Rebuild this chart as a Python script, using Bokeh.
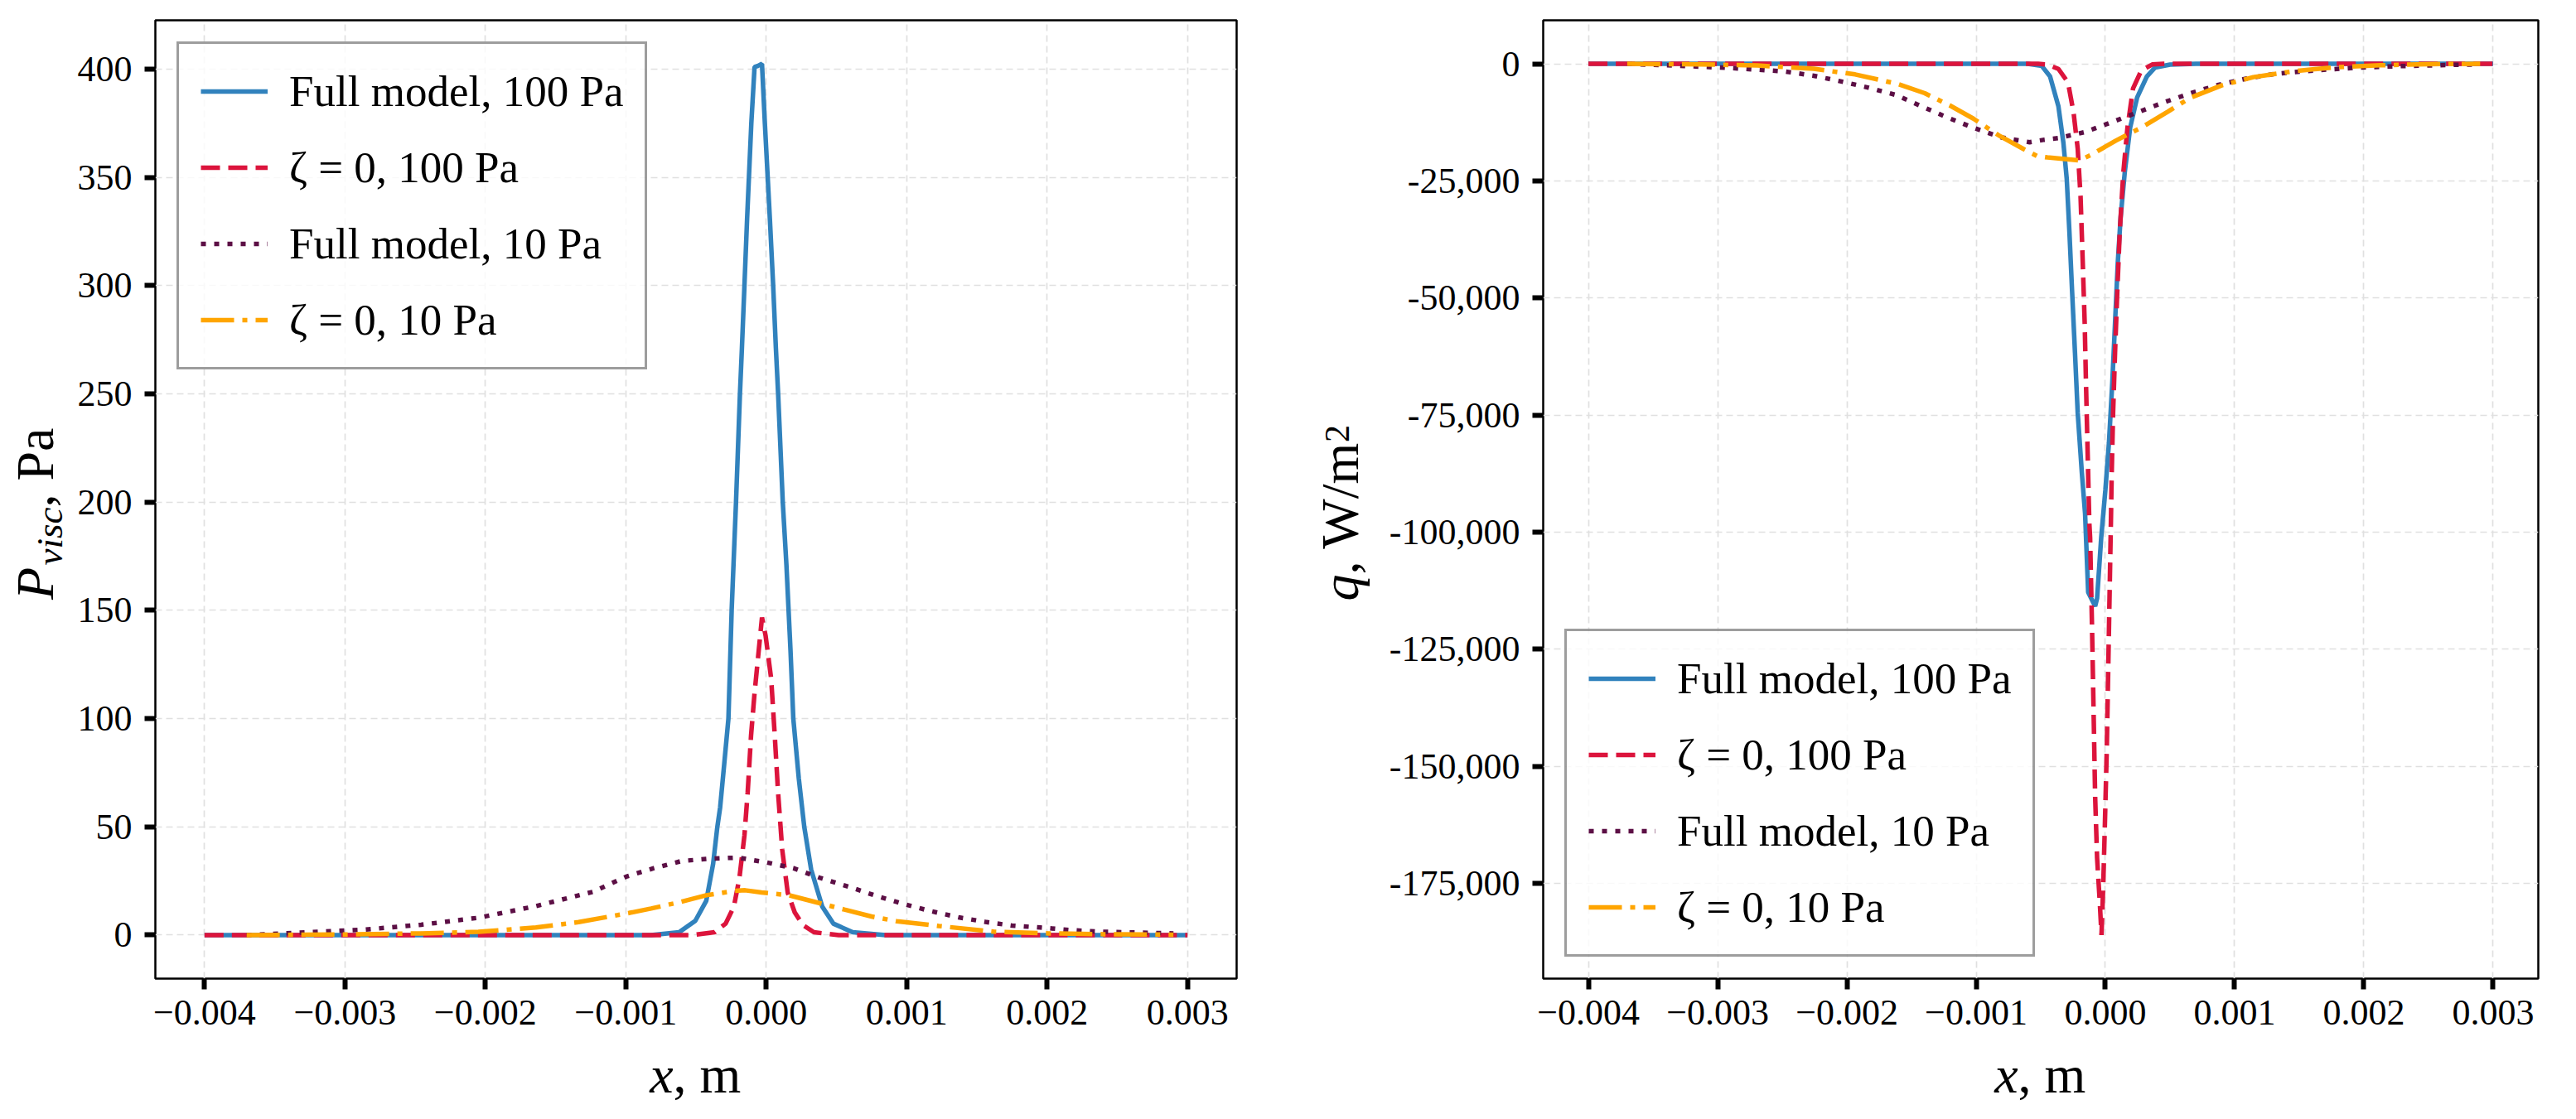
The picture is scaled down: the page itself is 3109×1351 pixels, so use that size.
import math

from bokeh.embed import file_html
from bokeh.layouts import column, row
from bokeh.models import FixedTicker, Label, Range1d
from bokeh.plotting import figure
from bokeh.resources import INLINE

x_ticks = [-0.004, -0.003, -0.002, -0.001, 0.0, 0.001, 0.002, 0.003]
x_tick_labels = ["\u22120.004", "\u22120.003", "\u22120.002", "\u22120.001",
                 "0.000", "0.001", "0.002", "0.003"]

p_ticks = [0, 50, 100, 150, 200, 250, 300, 350, 400]
p_tick_labels = ["0", "50", "100", "150", "200", "250", "300", "350", "400"]

q_ticks = [0, -25000, -50000, -75000, -100000, -125000, -150000, -175000]
q_tick_labels = ["0", "-25,000", "-50,000", "-75,000", "-100,000",
                 "-125,000", "-150,000", "-175,000"]

series_names = ["Full model, 100 Pa", "\u03b6 = 0, 100 Pa",
                "Full model, 10 Pa", "\u03b6 = 0, 10 Pa"]

# P_visc, Pa
p_full_100_x = [-0.004, -0.00082, -0.00062, -0.000505, -0.000427, -0.000378,
                -0.000348, -0.000328, -0.000299, -0.000269, -0.000246,
                -0.000215, -0.000187, -0.000173, -0.000155, -0.000136,
                -0.000106, -0.000083, -0.00006, -0.00003, -0.0000095,
                0.000026, 0.0000496, 0.000069, 0.000085, 0.000118, 0.000144,
                0.000173, 0.000193, 0.000232, 0.000271, 0.00032, 0.000399,
                0.000478, 0.000616, 0.00085, 0.003]
p_full_100_y = [0, 0, 1.3, 6.6, 15.8, 32.9,
                50, 59, 79, 100, 150,
                200, 250, 271, 300, 331,
                375, 401, 401.5, 402.5, 375,
                331, 300, 271, 250, 200, 171,
                131.6, 100, 72.4, 50, 30.3, 13.2,
                5.3, 1.3, 0, 0]

p_zeta_100_x = [-0.004, -0.000525, -0.000368, -0.000289, -0.00023, -0.000191,
                -0.000155, -0.000132, -0.000108, -0.000083, -0.000053,
                -0.00003, -0.000004, 0.0000354, 0.000061, 0.0000846,
                0.000114, 0.000153, 0.000203, 0.000262, 0.00034, 0.000517,
                0.003]
p_zeta_100_y = [0, 0, 1.3, 5.3, 13.2, 26.3,
                46, 65.8, 92.1, 111.8, 131.6,
                146.7, 138.2, 118.4, 92.1, 65.8,
                39.5, 19.7, 10.5, 4.6, 1.3, 0,
                0]

p_full_10_x = [-0.0037, -0.00327, -0.002863, -0.002457, -0.00205, -0.00164,
               -0.001234, -0.000997, -0.0008, -0.000604, -0.000407, -0.0002,
               0.0, 0.000193, 0.00039, 0.000586, 0.00077, 0.00097, 0.00117,
               0.00137, 0.00156, 0.00175, 0.00195, 0.00217, 0.00237, 0.00256,
               0.00276, 0.0029]
p_full_10_y = [0, 1.3, 2.5, 4.8, 8.0, 13.4,
               20.0, 27.0, 30.9, 34.2, 35.3, 35.8,
               33.6, 30.9, 26.3, 22.4, 18.4, 14.5, 11.1,
               8.2, 6.1, 4.4, 3.5, 2.3, 1.6, 1.3,
               1.0, 0.8]

p_zeta_10_x = [-0.0037, -0.003, -0.002458, -0.00205, -0.00164, -0.001336,
               -0.00113, -0.000977, -0.00082, -0.000623, -0.000427, -0.00023,
               -0.00015, -0.000033, 0.000163, 0.00036, 0.000557, 0.00075,
               0.00093, 0.00123, 0.00162, 0.00201, 0.0024, 0.0029]
p_zeta_10_y = [0, 0.3, 0.8, 1.5, 3.5, 6.0,
               8.4, 10.2, 12.3, 15.1, 18.4, 20.4,
               20.7, 19.7, 18.4, 15.1, 11.8, 8.6,
               6.4, 4.2, 1.6, 0.8, 0.4, 0.2]

# q, W/m2
q_full_100_x = [-0.004, -0.0006, -0.000492, -0.000428, -0.000363, -0.000325,
                -0.000299, -0.000278, -0.000257, -0.000235, -0.000214,
                -0.000182, -0.000157, -0.000133, -0.000079, -0.000064,
                -0.000032, 0.0, 0.0000278, 0.0000535, 0.0000748, 0.0000962,
                0.000118, 0.00015, 0.000192, 0.000246, 0.000321, 0.000385,
                0.0005, 0.0007, 0.003]
q_full_100_y = [0, 0, -450, -2690, -9100, -16800,
                -24500, -36000, -48800, -61700, -74500,
                -87300, -96000, -112800, -115800, -114100,
                -101100, -91000, -80900, -68100, -55300, -42400,
                -32800, -23200, -13600, -7180, -2690, -770,
                -150, 0, 0]

q_zeta_100_x = [-0.004, -0.00052, -0.000449, -0.000363, -0.000289, -0.000246,
                -0.000214, -0.000192, -0.000175, -0.00016, -0.00015,
                -0.000139, -0.000124, -0.000118, -0.000103, -0.0000898,
                -0.0000791, -0.0000641, -0.0000428, -0.00003, -0.0000171,
                -0.0000043, 0.0000107, 0.0000214, 0.0000321, 0.0000428,
                0.0000492, 0.0000599, 0.0000748, 0.0000919, 0.000111,
                0.000139, 0.000171, 0.000214, 0.000278, 0.000363, 0.00045,
                0.003]
q_zeta_100_y = [0, 0, -130, -1090, -3970, -10400,
                -18100, -28300, -42400, -55300, -68100,
                -80900, -98100, -101100, -120600, -140200,
                -156400, -169500, -179200, -186000, -176000,
                -163000, -146700, -130400, -114100, -97900,
                -87300, -74500, -61700, -48800, -36000,
                -23200, -13600, -5260, -1410, -130, 0,
                0]

q_full_10_x = [-0.0037, -0.00324, -0.002908, -0.002691, -0.002474, -0.002256,
               -0.00205, -0.001833, -0.001616, -0.00141, -0.001211, -0.001009,
               -0.000803, -0.000586, -0.000471, -0.000363, -0.000155,
               0.0000662, 0.000262, 0.000459, 0.000679, 0.000876, 0.001096,
               0.001317, 0.001636, 0.00198, 0.002298, 0.00274, 0.0029]
q_full_10_y = [0, -470, -890, -1240, -1650, -2540,
               -3720, -5080, -6680, -9220, -11580, -13770,
               -15720, -16730, -16190, -15840, -14540,
               -12290, -10220, -8160, -6090, -4490, -3130,
               -2130, -1360, -770, -470, -180, -120]

q_zeta_10_x = [-0.0037, -0.003126, -0.002691, -0.002256, -0.001936, -0.001604,
               -0.001398, -0.001204, -0.001021, -0.000826, -0.000632,
               -0.000529, -0.000449, -0.0002, -0.000107, 0.00008, 0.000287,
               0.000483, 0.000655, 0.0009, 0.001145, 0.001464, 0.001759,
               0.002127, 0.002494, 0.0029]
q_zeta_10_y = [0, -120, -350, -1060, -2250, -4310,
               -6260, -8870, -11700, -15250, -18200,
               -19680, -19980, -20600, -19400, -16400, -13480,
               -10220, -7270, -4610, -2840, -1540, -770,
               -300, -60, 0]

FONT = "Liberation Serif"
colors = ["#3182bd", "#dc143c", "#5c0f45", "#ffa500"]
dashes = ["solid", "23 10", "6 10", "40 10 6 10"]

MAIN_HEIGHT = 1261
LABEL_STRIP = 74


def add_text(p, text, x, y, size, italic=False, angle=0.0):
    # every piece is centred on (x, y), so rotation cannot move it
    p.add_layout(Label(x=x, y=y, x_units="screen", y_units="screen",
                       text=text, text_font=FONT,
                       text_font_size=size,
                       text_font_style="italic" if italic else "normal",
                       text_align="center", text_baseline="middle",
                       angle=angle, text_color="black"))


def text_box(width, height):
    # a bare figure that only carries axis-title texts
    p = figure(width=width, height=height, min_border=0,
               x_range=Range1d(0, 1), y_range=Range1d(0, 1),
               x_axis_type=None, y_axis_type=None,
               output_backend="svg", toolbar_location=None)
    p.outline_line_color = None
    return p


def make_panel(series, y_ticks, y_tick_labels, y_range, frame_width,
               border_left, border_right, legend_location):
    p = figure(frame_width=frame_width, frame_height=1157,
               min_border_left=border_left, min_border_right=border_right,
               min_border_top=24, min_border_bottom=MAIN_HEIGHT - 1181,
               x_range=Range1d(-0.00435, 0.00335), y_range=y_range,
               output_backend="svg", toolbar_location=None)

    for (xs, ys), name, color, dash in zip(series, series_names,
                                           colors, dashes):
        p.line(xs, ys, line_color=color, line_width=5.5, line_dash=dash,
               legend_label=name)

    p.xaxis.ticker = FixedTicker(ticks=x_ticks)
    p.xaxis.major_label_overrides = dict(zip(x_ticks, x_tick_labels))
    p.yaxis.ticker = FixedTicker(ticks=y_ticks)
    p.yaxis.major_label_overrides = dict(zip(y_ticks, y_tick_labels))

    for axis in (p.xaxis, p.yaxis):
        axis.axis_line_color = None
        axis.minor_tick_line_color = None
        axis.major_tick_line_color = "black"
        axis.major_tick_line_width = 6
        axis.major_tick_out = 13
        axis.major_tick_in = 0
        axis.major_label_standoff = 15
        axis.major_label_text_font = FONT
        axis.major_label_text_font_size = "44px"
        axis.major_label_text_color = "black"
    p.xaxis.major_label_standoff = 13

    p.grid.grid_line_color = "#e0e0e0"
    p.grid.grid_line_dash = "8 5"
    p.grid.grid_line_width = 1.7

    p.outline_line_color = "black"
    p.outline_line_width = 2.5
    p.outline_line_alpha = 1.0

    legend = p.legend[0]
    legend.location = legend_location
    legend.margin = 26
    legend.padding = 26
    legend.spacing = 30
    legend.glyph_width = 81
    legend.glyph_height = 62
    legend.label_height = 62
    legend.label_standoff = 26
    legend.label_text_font = FONT
    legend.label_text_font_size = "53px"
    legend.label_text_color = "black"
    legend.border_line_color = "#3c3c3c"
    legend.border_line_width = 3
    legend.background_fill_alpha = 0.8
    return p


def plot() -> None:
    up = math.pi / 2

    left_plot = make_panel([(p_full_100_x, p_full_100_y),
                            (p_zeta_100_x, p_zeta_100_y),
                            (p_full_10_x, p_full_10_y),
                            (p_zeta_10_x, p_zeta_10_y)],
                           p_ticks, p_tick_labels, Range1d(-20.1, 422.6),
                           1305, 97, 55, "top_left")

    left_ylabel = text_box(90, MAIN_HEIGHT)
    add_text(left_ylabel, "P", 42, 477, "64px", italic=True, angle=up)
    add_text(left_ylabel, "visc", 59, 534, "45px", italic=True, angle=up)
    add_text(left_ylabel, ", Pa", 42, 617, "64px", angle=up)

    left_xlabel = text_box(1547, LABEL_STRIP)
    add_text(left_xlabel, "x", 798, 38, "64px", italic=True)
    add_text(left_xlabel, ", m", 853, 38, "64px")

    right_plot = make_panel([(q_full_100_x, q_full_100_y),
                             (q_zeta_100_x, q_zeta_100_y),
                             (q_full_10_x, q_full_10_y),
                             (q_zeta_10_x, q_zeta_10_y)],
                            q_ticks, q_tick_labels, Range1d(-195300, 9300),
                            1201, 195, 30, "bottom_left")

    right_ylabel = text_box(120, MAIN_HEIGHT)
    add_text(right_ylabel, "q", 70, 472, "64px", italic=True, angle=up)
    add_text(right_ylabel, ", W/m", 70, 568, "64px", angle=up)
    add_text(right_ylabel, "2", 66, 658, "42px", angle=up)

    right_xlabel = text_box(1546, LABEL_STRIP)
    add_text(right_xlabel, "x", 874, 38, "64px", italic=True)
    add_text(right_xlabel, ", m", 929, 38, "64px")

    layout = row(column(row(left_ylabel, left_plot), left_xlabel),
                 column(row(right_ylabel, right_plot), right_xlabel))
    with open("out.html", "w") as out_file:
        out_file.write(file_html(layout, INLINE))


plot()
